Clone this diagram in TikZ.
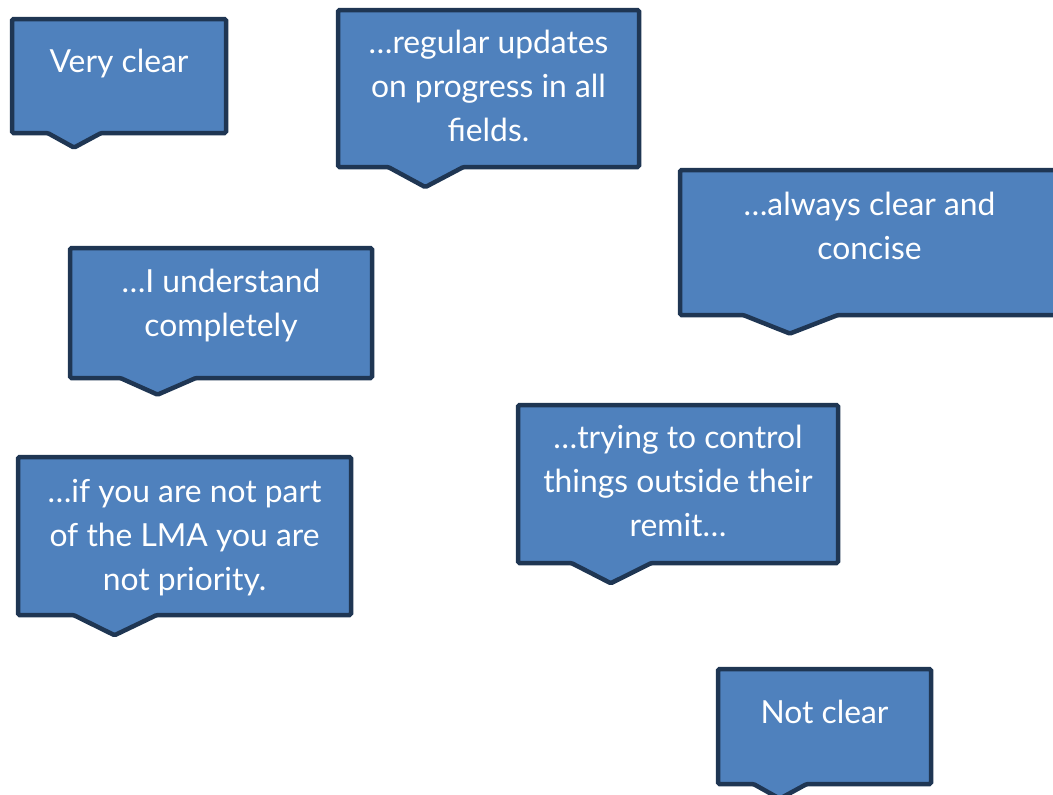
\documentclass[tikz,border=0pt]{standalone}
\usepackage{fontspec}
\setmainfont{Lato}

\definecolor{bubblefill}{HTML}{4F81BD}
\definecolor{bubbleline}{HTML}{1F3653}

\tikzset{
	bubble/.style={fill=bubblefill, draw=bubbleline, line width=4.5pt, rounded corners=1.5pt},
	bubbletext/.style={text=white, align=center, inner sep=0pt, anchor=base, font=\fontsize{31.8}{44}\selectfont},
}

\begin{document}
\begin{tikzpicture}[x=1pt, y=-1pt]
\useasboundingbox (0,0) rectangle (1053,795);
% \ybase = baseline of the last text line
\foreach \nm/\xl/\yt/\xr/\yb/\ybase/\txt in {
	vclear/12/19/226/133/72/{Very clear},
	updates/338/10/639/167/141/{…regular updates\\on progress in all\\fields.},
	concise/680/170/1059/315/259/{…always clear and\\concise},
	understand/70/248/372/378/336/{…I understand\\completely},
	priority/18/457/351/615/590/{…if you are not part\\of the LMA you are\\not priority.},
	remit/518/405/838/563/536/{…trying to control\\things outside their\\remit…},
	nclear/718/669/931/784/723/{Not clear}}{
	\pgfmathsetmacro\w{\xr-\xl}
	\pgfmathsetmacro\h{\yb-\yt}
	\draw[bubble] (\xl,\yt) -- (\xr,\yt) -- (\xr,\yb) -- (\xl+5*\w/12,\yb)
		-- (\xl+0.29*\w,\yb+0.128*\h) -- (\xl+\w/6,\yb) -- (\xl,\yb) -- cycle;
	\node[bubbletext] (\nm) at ({(\xl+\xr)/2},\ybase) {\txt};
}
\end{tikzpicture}
\end{document}
